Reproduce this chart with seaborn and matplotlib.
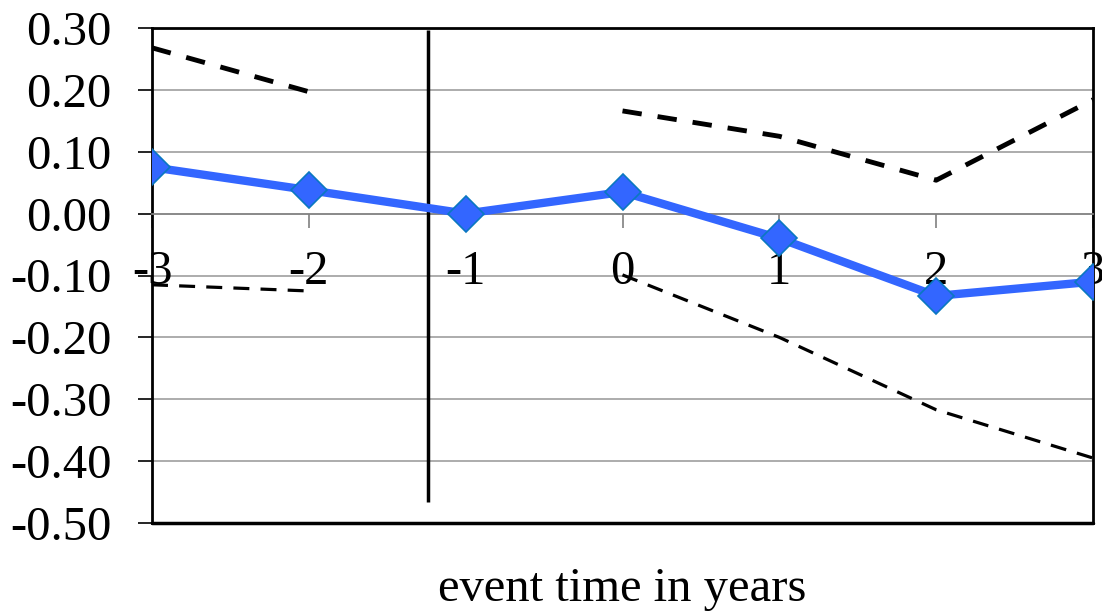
import numpy as np
import pandas as pd
import matplotlib
matplotlib.use("Agg")
import matplotlib.pyplot as plt
import seaborn as sns

# data
event_time = [-3, -2, -1, 0, 1, 2, 3]
estimate = [0.075, 0.038, 0.0, 0.035, -0.040, -0.133, -0.110]
upper_ci = [0.268, 0.197, np.nan, 0.166, 0.125, 0.054, 0.184]
lower_ci = [-0.115, -0.125, np.nan, -0.099, -0.200, -0.317, -0.395]
event_line_x = -1.24
event_line_span = (-0.466, 0.297)
y_ticks = [0.30, 0.20, 0.10, 0.00, -0.10, -0.20, -0.30, -0.40, -0.50]
x_label = "event time in years"

sns.set_style("white")
plt.rcParams['font.family'] = ['Liberation Serif', 'DejaVu Serif']
plt.rcParams['axes.unicode_minus'] = False
plt.rcParams['text.color'] = 'black'
plt.rcParams['xtick.labelcolor'] = 'black'
plt.rcParams['ytick.labelcolor'] = 'black'
plt.rcParams['axes.labelcolor'] = 'black'

df = pd.DataFrame({"t": event_time, "est": estimate, "hi": upper_ci, "lo": lower_ci})

fig = plt.figure(figsize=(11.02, 6.14), dpi=100)
ax = fig.add_axes([152/1102, 1 - 523/614, (1093 - 152)/1102, (523 - 28)/614])

# gridlines
for yv in y_ticks:
    if yv != 0.0:
        ax.axhline(yv, color="#A6A6A6", lw=1.3, zorder=0)

ax.plot(df["t"], df["hi"], color="black", lw=3.5, dashes=(4.0, 3.3), zorder=2)
ax.plot(df["t"], df["lo"], color="black", lw=2.3, dashes=(5.0, 3.5), zorder=2)

sns.lineplot(data=df, x="t", y="est", ax=ax, color="#3366FF", lw=6,
             marker="D", markersize=18, markerfacecolor="#3366FF",
             markeredgecolor="#0A78C0", markeredgewidth=1.2, zorder=4)

ax.vlines(event_line_x, event_line_span[0], event_line_span[1], color="black", lw=2.5, zorder=3)

ax.set_xlim(min(event_time), max(event_time))
ax.set_ylim(min(y_ticks), max(y_ticks))

for s in ["left", "right", "top"]:
    ax.spines[s].set_color("black")
    ax.spines[s].set_linewidth(2)
ax.spines["bottom"].set_position(("data", 0))
ax.spines["bottom"].set_color("#808080")
ax.spines["bottom"].set_linewidth(1.3)
ax.axhline(min(y_ticks), color="black", lw=2.5, zorder=5, clip_on=False)

ax.set_yticks(y_ticks)
ax.set_yticklabels([f"{v:.2f}" for v in y_ticks])
ax.set_xticks(event_time)
ax.set_xticklabels([str(v) for v in event_time])

ax.tick_params(axis="y", direction="out", length=10, width=1.2, color="black",
               pad=19, left=True, labelsize=35, labelcolor="black")
ax.tick_params(axis="x", direction="out", length=10, width=1.2, color="#808080",
               pad=16, bottom=True, labelsize=35, labelcolor="black")

ax.set_xlabel(x_label, fontsize=35, color="black")
ax.set_ylabel("")
ax.xaxis.set_label_coords(0.5, -0.088)
ax.xaxis.label.set_va("top")

fig.savefig("out.png", dpi=100)
